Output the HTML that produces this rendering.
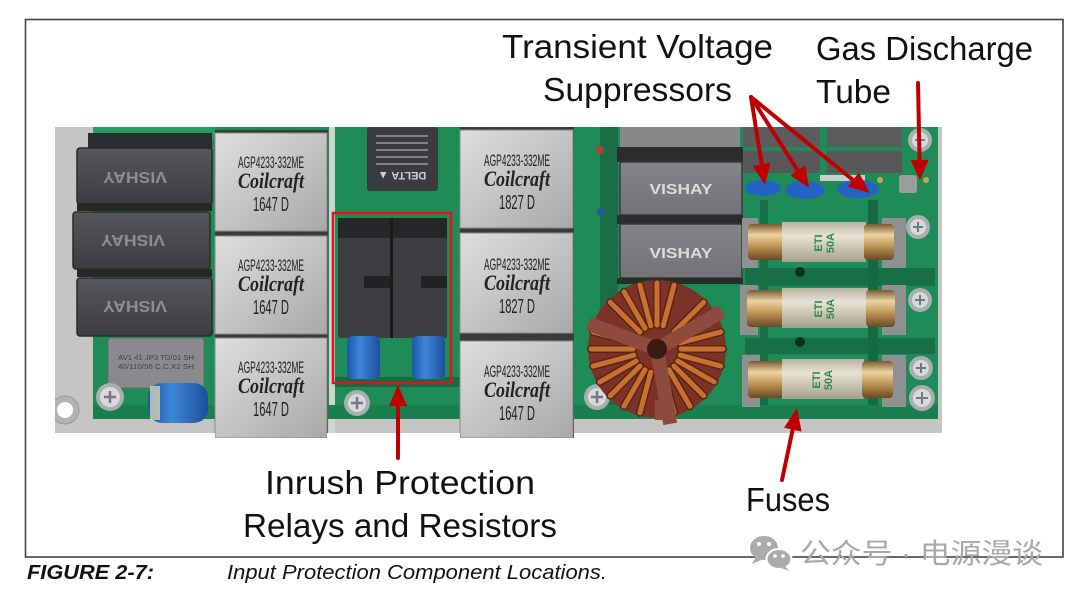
<!DOCTYPE html>
<html><head><meta charset="utf-8">
<style>
html,body{margin:0;padding:0;background:#fff;}
svg{display:block;}
</style></head><body>
<svg width="1080" height="597" viewBox="0 0 1080 597" xmlns="http://www.w3.org/2000/svg">
<defs>
 <linearGradient id="silver" x1="0" y1="0" x2="1" y2="1">
  <stop offset="0" stop-color="#dedede"/><stop offset="0.5" stop-color="#c4c4c4"/><stop offset="1" stop-color="#a8a8a8"/>
 </linearGradient>
 <linearGradient id="gold" x1="0" y1="0" x2="0" y2="1">
  <stop offset="0" stop-color="#7a5a30"/><stop offset="0.3" stop-color="#ecd4a2"/><stop offset="0.6" stop-color="#c29858"/><stop offset="1" stop-color="#6a4a24"/>
 </linearGradient>
 <linearGradient id="beige" x1="0" y1="0" x2="0" y2="1">
  <stop offset="0" stop-color="#b8b2a0"/><stop offset="0.35" stop-color="#e8e3d4"/><stop offset="1" stop-color="#a59f8e"/>
 </linearGradient>
 <linearGradient id="blue" x1="0" y1="0" x2="1" y2="0">
  <stop offset="0" stop-color="#1d55a8"/><stop offset="0.4" stop-color="#3f86d8"/><stop offset="1" stop-color="#1b4f9c"/>
 </linearGradient>
 <linearGradient id="vish" x1="0" y1="0" x2="0" y2="1">
  <stop offset="0" stop-color="#56575b"/><stop offset="1" stop-color="#3c3d41"/>
 </linearGradient>
 <linearGradient id="vish2" x1="0" y1="0" x2="0" y2="1">
  <stop offset="0" stop-color="#858589"/><stop offset="1" stop-color="#737377"/>
 </linearGradient>
 <clipPath id="pc"><rect x="55" y="127" width="887" height="311"/></clipPath>
</defs>

<!-- frame -->
<rect x="25.5" y="19.5" width="1037.5" height="537.5" fill="none" stroke="#444" stroke-width="1.6"/>

<!-- PHOTO -->
<g clip-path="url(#pc)">
 <rect x="55" y="127" width="887" height="306" fill="#c5c5c5"/>
 <rect x="93" y="127" width="845" height="292" fill="#1f8b57"/>
 <!-- pcb shading / traces -->
 <rect x="93" y="127" width="122" height="12" fill="#2a9a64"/>
 <rect x="600" y="127" width="18" height="292" fill="#1a6e45"/>
 <rect x="745" y="268" width="190" height="18" fill="#176f46"/>
 <rect x="745" y="338" width="190" height="16" fill="#176f46"/>
 <rect x="868" y="200" width="10" height="219" fill="#156a43"/>
 <rect x="760" y="200" width="8" height="219" fill="#176f46"/>
 <rect x="335" y="377" width="125" height="10" fill="#176b44"/>
 <rect x="329" y="127" width="6" height="306" fill="#cdd6d0"/>
 <rect x="93" y="405" width="845" height="14" fill="#1a7e4f"/>
 <!-- hole -->
 <circle cx="65" cy="410" r="14" fill="#b3b3b3" stroke="#999" stroke-width="1"/>
 <circle cx="65" cy="410" r="8" fill="#fff"/>

 <!-- left vishay blocks -->
 <rect x="88" y="133" width="124" height="16" fill="#2b2c2e"/>
 <rect x="77" y="148" width="135" height="56" rx="3" fill="url(#vish)" stroke="#2a2a2c" stroke-width="1.5"/>
 <rect x="73" y="212" width="137" height="57" rx="3" fill="url(#vish)" stroke="#2a2a2c" stroke-width="1.5"/>
 <rect x="77" y="278" width="135" height="58" rx="3" fill="url(#vish)" stroke="#2a2a2c" stroke-width="1.5"/>
 <rect x="77" y="203" width="135" height="8" fill="#262a27"/>
 <rect x="77" y="269" width="135" height="8" fill="#262a27"/>
 <text transform="translate(135,172) rotate(180)" text-anchor="middle" font-family="Liberation Sans, sans-serif" font-weight="bold" font-size="16" fill="#8e8e92" textLength="64" lengthAdjust="spacingAndGlyphs">VISHAY</text>
 <text transform="translate(133,235) rotate(180)" text-anchor="middle" font-family="Liberation Sans, sans-serif" font-weight="bold" font-size="16" fill="#8e8e92" textLength="64" lengthAdjust="spacingAndGlyphs">VISHAY</text>
 <text transform="translate(135,301) rotate(180)" text-anchor="middle" font-family="Liberation Sans, sans-serif" font-weight="bold" font-size="16" fill="#8e8e92" textLength="64" lengthAdjust="spacingAndGlyphs">VISHAY</text>
 <!-- x cap -->
 <rect x="108" y="338" width="96" height="50" rx="3" fill="#8a8a8e" stroke="#6a6a6e"/>
 <text x="118" y="360" font-family="Liberation Sans, sans-serif" font-size="7" fill="#444" textLength="76" lengthAdjust="spacingAndGlyphs">AV1 41 JP3 TD/01 SH</text>
 <text x="118" y="369" font-family="Liberation Sans, sans-serif" font-size="7" fill="#444" textLength="76" lengthAdjust="spacingAndGlyphs">40/110/56 C.C.X2 SH</text>
 <!-- blue disc cap -->
 <rect x="148" y="383" width="60" height="40" rx="14" fill="url(#blue)"/>
 <rect x="150" y="386" width="10" height="34" fill="#d8d2b8" opacity="0.8"/>
 <!-- screw left -->
 <circle cx="110" cy="397" r="14" fill="#a9aeb0"/><circle cx="110" cy="397" r="10" fill="#d7dadc"/>
 <path d="M104 397h12M110 391v12" stroke="#777" stroke-width="2.5"/>

 <!-- coilcraft col 1 -->
 <rect x="215" y="130" width="113" height="308" fill="#3a3a3a"/>
 <rect x="215" y="133" width="112" height="98" fill="url(#silver)" stroke="#8a8a8a"/>
 <rect x="215" y="236" width="112" height="98" fill="url(#silver)" stroke="#8a8a8a"/>
 <rect x="215" y="338" width="112" height="100" fill="url(#silver)" stroke="#8a8a8a"/>
 <g font-family="Liberation Sans, sans-serif" fill="#222" text-anchor="middle">
  <text x="271" y="168" font-size="17" textLength="66" lengthAdjust="spacingAndGlyphs">AGP4233-332ME</text>
  <text x="271" y="271" font-size="17" textLength="66" lengthAdjust="spacingAndGlyphs">AGP4233-332ME</text>
  <text x="271" y="373" font-size="17" textLength="66" lengthAdjust="spacingAndGlyphs">AGP4233-332ME</text>
  <text x="271" y="211" font-size="20" textLength="36" lengthAdjust="spacingAndGlyphs">1647 D</text>
  <text x="271" y="314" font-size="20" textLength="36" lengthAdjust="spacingAndGlyphs">1647 D</text>
  <text x="271" y="416" font-size="20" textLength="36" lengthAdjust="spacingAndGlyphs">1647 D</text>
 </g>
 <g font-family="Liberation Serif, serif" font-style="italic" font-weight="bold" fill="#222" text-anchor="middle">
  <text x="271" y="188" font-size="22" textLength="66" lengthAdjust="spacingAndGlyphs">Coilcraft</text>
  <text x="271" y="291" font-size="22" textLength="66" lengthAdjust="spacingAndGlyphs">Coilcraft</text>
  <text x="271" y="393" font-size="22" textLength="66" lengthAdjust="spacingAndGlyphs">Coilcraft</text>
 </g>

 <!-- delta IC -->
 <rect x="367" y="127" width="71" height="64" rx="3" fill="#3a3b3e"/>
 <path d="M376 136h52M376 143h52M376 150h52M376 157h52M376 164h52" stroke="#9a9a9a" stroke-width="1.5"/>
 <text transform="translate(402,172) rotate(180)" text-anchor="middle" font-family="Liberation Sans, sans-serif" font-weight="bold" font-size="11" fill="#d0d0d0">DELTA ▲</text>

 <!-- relays -->
 <rect x="338" y="218" width="52" height="120" rx="2" fill="#3d3e41"/>
 <rect x="393" y="218" width="54" height="120" rx="2" fill="#3d3e41"/>
 <rect x="338" y="218" width="52" height="20" fill="#252628"/>
 <rect x="393" y="218" width="54" height="20" fill="#252628"/>
 <rect x="364" y="276" width="26" height="12" fill="#222"/>
 <rect x="421" y="276" width="26" height="12" fill="#222"/>
 <rect x="390" y="218" width="3" height="120" fill="#1a1a1a"/>
 <!-- blue resistors -->
 <rect x="347" y="336" width="33" height="43" rx="6" fill="url(#blue)"/>
 <rect x="412" y="336" width="33" height="43" rx="6" fill="url(#blue)"/>
 <!-- screw -->
 <circle cx="357" cy="403" r="13" fill="#a9aeb0"/><circle cx="357" cy="403" r="9" fill="#d7dadc"/>
 <path d="M351 403h12M357 397v12" stroke="#777" stroke-width="2.5"/>

 <!-- coilcraft col 2 -->
 <rect x="460" y="127" width="114" height="311" fill="#3a3a3a"/>
 <rect x="460" y="130" width="113" height="98" fill="url(#silver)" stroke="#8a8a8a"/>
 <rect x="460" y="233" width="113" height="100" fill="url(#silver)" stroke="#8a8a8a"/>
 <rect x="460" y="341" width="113" height="97" fill="url(#silver)" stroke="#8a8a8a"/>
 <g font-family="Liberation Sans, sans-serif" fill="#222" text-anchor="middle">
  <text x="517" y="166" font-size="17" textLength="66" lengthAdjust="spacingAndGlyphs">AGP4233-332ME</text>
  <text x="517" y="270" font-size="17" textLength="66" lengthAdjust="spacingAndGlyphs">AGP4233-332ME</text>
  <text x="517" y="377" font-size="17" textLength="66" lengthAdjust="spacingAndGlyphs">AGP4233-332ME</text>
  <text x="517" y="209" font-size="20" textLength="36" lengthAdjust="spacingAndGlyphs">1827 D</text>
  <text x="517" y="313" font-size="20" textLength="36" lengthAdjust="spacingAndGlyphs">1827 D</text>
  <text x="517" y="420" font-size="20" textLength="36" lengthAdjust="spacingAndGlyphs">1647 D</text>
 </g>
 <g font-family="Liberation Serif, serif" font-style="italic" font-weight="bold" fill="#222" text-anchor="middle">
  <text x="517" y="186" font-size="22" textLength="66" lengthAdjust="spacingAndGlyphs">Coilcraft</text>
  <text x="517" y="290" font-size="22" textLength="66" lengthAdjust="spacingAndGlyphs">Coilcraft</text>
  <text x="517" y="397" font-size="22" textLength="66" lengthAdjust="spacingAndGlyphs">Coilcraft</text>
 </g>
 <!-- small parts -->
 <circle cx="600" cy="150" r="4" fill="#b04030"/>
 <circle cx="601" cy="212" r="4" fill="#3050a0"/>
 <!-- screw -->
 <circle cx="597" cy="397" r="13" fill="#a9aeb0"/><circle cx="597" cy="397" r="9" fill="#d7dadc"/>
 <path d="M591 397h12M597 391v12" stroke="#777" stroke-width="2.5"/>

 <!-- right vishay column -->
 <rect x="620" y="127" width="120" height="20" fill="#88888b"/>
 <rect x="617" y="147" width="126" height="15" fill="#2c2c2e"/>
 <rect x="620" y="162" width="122" height="53" rx="2" fill="url(#vish2)" stroke="#3a3a3c" stroke-width="1.5"/>
 <rect x="617" y="215" width="126" height="9" fill="#2c2c2e"/>
 <rect x="620" y="224" width="122" height="54" rx="2" fill="url(#vish2)" stroke="#3a3a3c" stroke-width="1.5"/>
 <rect x="617" y="278" width="126" height="6" fill="#243026"/>
 <text x="681" y="194" text-anchor="middle" font-family="Liberation Sans, sans-serif" font-weight="bold" font-size="15" fill="#dcdcdc" textLength="63" lengthAdjust="spacingAndGlyphs">VISHAY</text>
 <text x="681" y="258" text-anchor="middle" font-family="Liberation Sans, sans-serif" font-weight="bold" font-size="15" fill="#dcdcdc" textLength="63" lengthAdjust="spacingAndGlyphs">VISHAY</text>

 <!-- top small blocks -->
 <rect x="743" y="127" width="77" height="20" fill="#5c5c5f"/>
 <rect x="827" y="127" width="75" height="20" fill="#5c5c5f"/>
 <rect x="743" y="151" width="77" height="22" fill="#58585b"/>
 <rect x="827" y="151" width="75" height="22" fill="#58585b"/>
 <rect x="820" y="175" width="45" height="6" fill="#c8cfcc"/>
 <!-- TVS discs -->
 <ellipse cx="763" cy="188" rx="18" ry="8" fill="#2563c2"/>
 <ellipse cx="805" cy="190" rx="20" ry="9" fill="#2563c2"/>
 <ellipse cx="858" cy="189" rx="21" ry="9" fill="#2563c2"/>
 <!-- GDT -->
 <rect x="899" y="175" width="18" height="18" rx="3" fill="#9c9c98"/>
 <circle cx="880" cy="180" r="3" fill="#c9a55a"/>
 <circle cx="926" cy="180" r="3" fill="#c9a55a"/>

 <!-- fuses -->
 <g>
  <rect x="742" y="218" width="16" height="50" fill="#8e9092"/>
  <rect x="882" y="218" width="24" height="50" fill="#8e9092"/>
  <rect x="748" y="224" width="36" height="36" rx="4" fill="url(#gold)"/>
  <rect x="782" y="222" width="84" height="40" fill="url(#beige)"/>
  <rect x="864" y="224" width="30" height="36" rx="4" fill="url(#gold)"/>
  <text transform="translate(822,243) rotate(-90)" text-anchor="middle" font-family="Liberation Sans, sans-serif" font-weight="bold" font-size="11" fill="#2f8a48">ETI</text>
  <text transform="translate(834,243) rotate(-90)" text-anchor="middle" font-family="Liberation Sans, sans-serif" font-weight="bold" font-size="11" fill="#2f8a48">50A</text>
 </g>
 <g>
  <rect x="740" y="285" width="18" height="50" fill="#8e9092"/>
  <rect x="882" y="285" width="24" height="50" fill="#8e9092"/>
  <rect x="747" y="290" width="36" height="37" rx="4" fill="url(#gold)"/>
  <rect x="782" y="288" width="86" height="40" fill="url(#beige)"/>
  <rect x="866" y="290" width="29" height="37" rx="4" fill="url(#gold)"/>
  <text transform="translate(822,309) rotate(-90)" text-anchor="middle" font-family="Liberation Sans, sans-serif" font-weight="bold" font-size="11" fill="#2f8a48">ETI</text>
  <text transform="translate(834,309) rotate(-90)" text-anchor="middle" font-family="Liberation Sans, sans-serif" font-weight="bold" font-size="11" fill="#2f8a48">50A</text>
 </g>
 <g>
  <rect x="742" y="355" width="18" height="52" fill="#8e9092"/>
  <rect x="882" y="355" width="24" height="52" fill="#8e9092"/>
  <rect x="748" y="361" width="36" height="37" rx="4" fill="url(#gold)"/>
  <rect x="782" y="359" width="82" height="40" fill="url(#beige)"/>
  <rect x="862" y="361" width="31" height="37" rx="4" fill="url(#gold)"/>
  <text transform="translate(820,380) rotate(-90)" text-anchor="middle" font-family="Liberation Sans, sans-serif" font-weight="bold" font-size="11" fill="#2f8a48">ETI</text>
  <text transform="translate(832,380) rotate(-90)" text-anchor="middle" font-family="Liberation Sans, sans-serif" font-weight="bold" font-size="11" fill="#2f8a48">50A</text>
 </g>
 <circle cx="800" cy="272" r="5" fill="#10301e"/>
 <circle cx="800" cy="342" r="5" fill="#10301e"/>

 <!-- right screws -->
 <g>
  <circle cx="920" cy="140" r="12" fill="#a9aeb0"/><circle cx="920" cy="140" r="8" fill="#d7dadc"/><path d="M915 140h10M920 135v10" stroke="#777" stroke-width="2"/>
  <circle cx="918" cy="227" r="12" fill="#a9aeb0"/><circle cx="918" cy="227" r="8" fill="#d7dadc"/><path d="M913 227h10M918 222v10" stroke="#777" stroke-width="2"/>
  <circle cx="920" cy="300" r="12" fill="#a9aeb0"/><circle cx="920" cy="300" r="8" fill="#d7dadc"/><path d="M915 300h10M920 295v10" stroke="#777" stroke-width="2"/>
  <circle cx="921" cy="368" r="12" fill="#a9aeb0"/><circle cx="921" cy="368" r="8" fill="#d7dadc"/><path d="M916 368h10M921 363v10" stroke="#777" stroke-width="2"/>
  <circle cx="922" cy="398" r="13" fill="#a9aeb0"/><circle cx="922" cy="398" r="9" fill="#d7dadc"/><path d="M916 398h12M922 392v12" stroke="#777" stroke-width="2"/>
 </g>

 <!-- toroid -->
 <circle cx="657" cy="349" r="69" fill="#7a3326"/>
 <g stroke="#5a2414" stroke-width="8" stroke-linecap="round">
  <path d="M681 349L723 349M680.2 355.2L720.8 366.1M677.8 361L714.2 382M674 366L703.7 395.7M669 369.8L690 406.2M663.2 372.2L674.1 412.8M650.8 372.2L639.9 412.8M645 369.8L624 406.2M640 366L610.3 395.7M636.2 361L599.8 382M633.8 355.2L593.2 366.1M633 349L591 349M633.8 342.8L593.2 331.9M640 332L610.3 302.3M645 328.2L624 291.8M650.8 325.8L639.9 285.2M657 325L657 283M663.2 325.8L674.1 285.2M674 332L703.7 302.3M677.8 337L714.2 316M680.2 342.8L720.8 331.9"/>
 </g>
 <g stroke="#c8702f" stroke-width="5" stroke-linecap="round">
  <path d="M681 349L723 349M680.2 355.2L720.8 366.1M677.8 361L714.2 382M674 366L703.7 395.7M669 369.8L690 406.2M663.2 372.2L674.1 412.8M650.8 372.2L639.9 412.8M645 369.8L624 406.2M640 366L610.3 395.7M636.2 361L599.8 382M633.8 355.2L593.2 366.1M633 349L591 349M633.8 342.8L593.2 331.9M640 332L610.3 302.3M645 328.2L624 291.8M650.8 325.8L639.9 285.2M657 325L657 283M663.2 325.8L674.1 285.2M674 332L703.7 302.3M677.8 337L714.2 316M680.2 342.8L720.8 331.9"/>
 </g>
 <g stroke="#8e4a3c" stroke-width="14" stroke-linecap="square">
  <path d="M657 349L669 417M657 349L595 326M657 349L716 315"/>
 </g>
 <circle cx="657" cy="349" r="10" fill="#3a1a12"/>
 <rect x="655" y="400" width="18" height="20" fill="#8e4a3c"/>
</g>
<!-- white below coilcraft notches -->
<rect x="55" y="433" width="160" height="6" fill="#fff"/>
<rect x="327" y="433" width="133" height="6" fill="#fff"/>
<rect x="574" y="433" width="368" height="6" fill="#fff"/>

<!-- red box -->
<rect x="333" y="213" width="118" height="170" fill="none" stroke="#e3111b" stroke-width="2.5"/>

<!-- arrows -->
<g stroke="#c00000" stroke-width="4" fill="none" stroke-linecap="round">
 <path d="M751 97L762 166"/>
 <path d="M751 97L798 171"/>
 <path d="M751 97L853 180"/>
 <path d="M918 83L919.6 162"/>
 <path d="M398 458L398 404"/>
 <path d="M782 480L793 428"/>
</g>
<g fill="#c00000">
 <polygon points="765,185 752.7,165.9 770.5,162.8"/>
 <polygon points="809,188 790.5,175.3 805.4,165.3"/>
 <polygon points="870,193 847.7,186.7 858.9,172.5"/>
 <polygon points="920,180 910.6,160.2 928.6,159.8"/>
 <polygon points="398,385 389,406 407,406"/>
 <polygon points="797,408 801.6,431.5 784,427.7"/>
</g>

<!-- labels -->
<g font-family="Liberation Sans, sans-serif" font-size="33" fill="#111">
 <text x="502" y="58" textLength="271" lengthAdjust="spacingAndGlyphs">Transient Voltage</text>
 <text x="543" y="101" textLength="189" lengthAdjust="spacingAndGlyphs">Suppressors</text>
 <text x="816" y="60" textLength="217" lengthAdjust="spacingAndGlyphs">Gas Discharge</text>
 <text x="816" y="103" textLength="75" lengthAdjust="spacingAndGlyphs">Tube</text>
 <text x="265" y="494" textLength="270" lengthAdjust="spacingAndGlyphs">Inrush Protection</text>
 <text x="243" y="537" textLength="314" lengthAdjust="spacingAndGlyphs">Relays and Resistors</text>
 <text x="746" y="511" textLength="84" lengthAdjust="spacingAndGlyphs">Fuses</text>
</g>

<!-- caption -->
<text x="27" y="579" font-family="Liberation Sans, sans-serif" font-weight="bold" font-style="italic" font-size="20" fill="#111" textLength="127" lengthAdjust="spacingAndGlyphs">FIGURE 2-7:</text>
<text x="227" y="579" font-family="Liberation Sans, sans-serif" font-style="italic" font-size="20" fill="#111" textLength="380" lengthAdjust="spacingAndGlyphs">Input Protection Component Locations.</text>

<!-- watermark -->
<g fill="#ababab">
 <ellipse cx="764" cy="548" rx="14" ry="12"/>
 <path d="M756 557l-4 7 9-4z"/>
 <ellipse cx="779" cy="559" rx="12.5" ry="10" stroke="#fff" stroke-width="2"/>
 <path d="M785 566l4 5-8-3z"/>
</g>
<g fill="#fff">
 <circle cx="759" cy="544" r="2"/><circle cx="769" cy="544" r="2"/>
 <circle cx="775" cy="556" r="1.8"/><circle cx="783" cy="556" r="1.8"/>
</g>
<text x="800" y="563" font-family="Liberation Sans, 'Noto Sans CJK SC', sans-serif" font-size="28" fill="#a8a8a8" textLength="243" lengthAdjust="spacingAndGlyphs">公众号 · 电源漫谈</text>
</svg>
</body></html>
